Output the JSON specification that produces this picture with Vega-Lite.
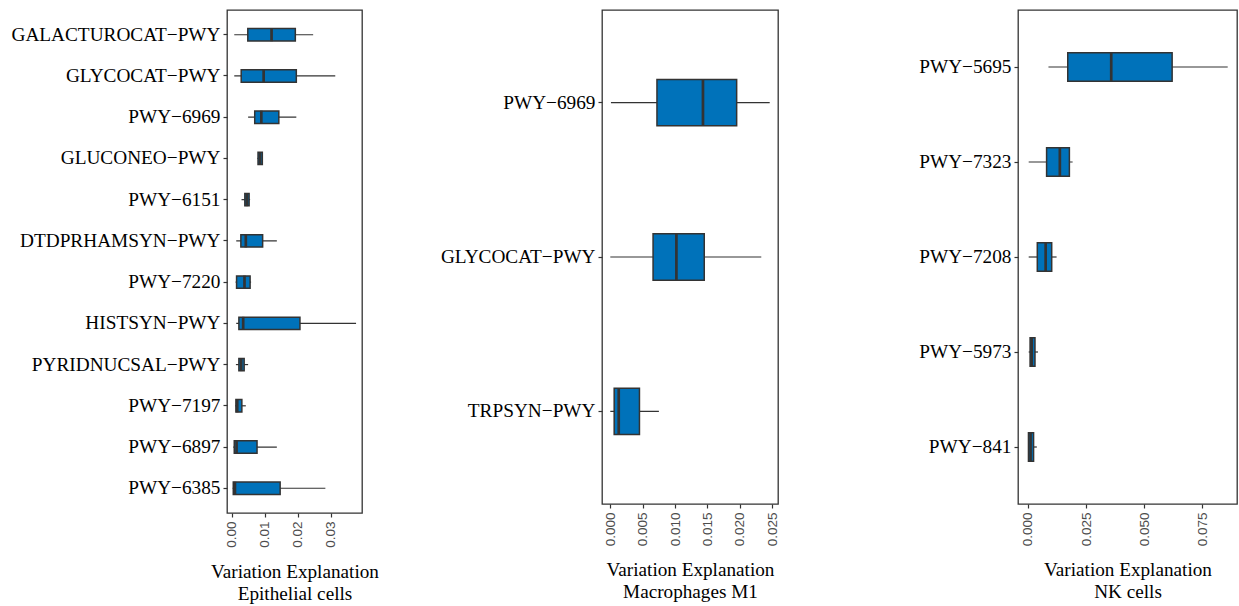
{
  "$schema": "https://vega.github.io/schema/vega-lite/v6.json",
  "padding": {"left": 10, "top": 9, "right": 0, "bottom": 0},
  "background": "white",
  "spacing": 240,
  "bounds": "flush",
  "config": {
    "view": {"stroke": "#333333", "strokeWidth": 1.3},
    "axisY": {"labelFont": "Liberation Serif", "labelFontSize": 19.3, "labelLimit": 0, "labelColor": "#000000", "tickColor": "#333333", "tickSize": 4, "tickWidth": 1.2, "labelPadding": 3, "domain": false, "grid": false, "title": null},
    "axisX": {"labelFont": "Liberation Sans", "labelFontSize": 13.5, "labelColor": "#4d4d4d", "labelAngle": 270, "labelOverlap": false, "labelFlush": false, "labelBound": false, "tickColor": "#333333", "tickSize": 4, "tickWidth": 1.2, "labelPadding": 4, "domain": false, "grid": false, "titleFont": "Liberation Serif", "titleFontSize": 19.2, "titleFontWeight": "normal", "titleColor": "#000000", "titleLineHeight": 22, "titlePadding": 15}
  },
  "datasets": {
    "epi": [
      {"pathway": "GALACTUROCAT−PWY", "min": 0.0007, "q1": 0.0048, "median": 0.0120, "q3": 0.0192, "max": 0.0246},
      {"pathway": "GLYCOCAT−PWY", "min": 0.0007, "q1": 0.0028, "median": 0.0096, "q3": 0.0195, "max": 0.0313},
      {"pathway": "PWY−6969", "min": 0.0049, "q1": 0.0069, "median": 0.0089, "q3": 0.0142, "max": 0.0195},
      {"pathway": "GLUCONEO−PWY", "min": 0.0077, "q1": 0.0079, "median": 0.0085, "q3": 0.0092, "max": 0.0094},
      {"pathway": "PWY−6151", "min": 0.0029, "q1": 0.0039, "median": 0.0045, "q3": 0.0052, "max": 0.0055},
      {"pathway": "DTDPRHAMSYN−PWY", "min": 0.0013, "q1": 0.0027, "median": 0.0042, "q3": 0.0093, "max": 0.0136},
      {"pathway": "PWY−7220", "min": 0.0011, "q1": 0.0014, "median": 0.0038, "q3": 0.0055, "max": 0.0058},
      {"pathway": "HISTSYN−PWY", "min": 0.0013, "q1": 0.0021, "median": 0.0034, "q3": 0.0206, "max": 0.0376},
      {"pathway": "PYRIDNUCSAL−PWY", "min": 0.0012, "q1": 0.0021, "median": 0.0028, "q3": 0.0037, "max": 0.0049},
      {"pathway": "PWY−7197", "min": 0.0010, "q1": 0.0012, "median": 0.0016, "q3": 0.0030, "max": 0.0042},
      {"pathway": "PWY−6897", "min": 0.0004, "q1": 0.0007, "median": 0.0014, "q3": 0.0076, "max": 0.0136},
      {"pathway": "PWY−6385", "min": 0.0002, "q1": 0.0004, "median": 0.0009, "q3": 0.0146, "max": 0.0283}
    ],
    "mac": [
      {"pathway": "PWY−6969", "min": 0.0001, "q1": 0.0072, "median": 0.0143, "q3": 0.0195, "max": 0.0246},
      {"pathway": "GLYCOCAT−PWY", "min": 0.0000, "q1": 0.0066, "median": 0.0102, "q3": 0.0145, "max": 0.0233},
      {"pathway": "TRPSYN−PWY", "min": 0.0000, "q1": 0.0006, "median": 0.0013, "q3": 0.0045, "max": 0.0075}
    ],
    "nk": [
      {"pathway": "PWY−5695", "min": 0.0088, "q1": 0.0171, "median": 0.0358, "q3": 0.0620, "max": 0.0859},
      {"pathway": "PWY−7323", "min": 0.0003, "q1": 0.0080, "median": 0.0137, "q3": 0.0178, "max": 0.0192},
      {"pathway": "PWY−7208", "min": 0.0003, "q1": 0.0040, "median": 0.0076, "q3": 0.0102, "max": 0.0123},
      {"pathway": "PWY−5973", "min": 0.0003, "q1": 0.0009, "median": 0.0016, "q3": 0.0030, "max": 0.0043},
      {"pathway": "PWY−841", "min": 0.0001, "q1": 0.0002, "median": 0.0011, "q3": 0.0024, "max": 0.0038}
    ]
  },
  "hconcat": [
    {
      "width": 135, "height": 503,
      "data": {"name": "epi"},
      "encoding": {
        "y": {"field": "pathway", "type": "nominal", "sort": null, "scale": {"type": "band", "paddingInner": 0, "paddingOuter": 0.1}},
        "x": {"field": "min", "type": "quantitative", "scale": {"domain": [-0.0015, 0.0394], "nice": false, "zero": false}, "axis": {"values": [0, 0.01, 0.02, 0.03], "format": ".2f", "labelOverlap": false, "title": ["Variation Explanation", "Epithelial cells"]}}
      },
      "layer": [
        {"mark": {"type": "rule", "color": "#333333", "strokeWidth": 1.2},
         "encoding": {"x2": {"field": "max"}}},
        {"mark": {"type": "bar", "fill": "#0072BA", "stroke": "#333333", "strokeWidth": 1.5, "height": {"band": 0.3}},
         "encoding": {"x": {"field": "q1", "type": "quantitative"}, "x2": {"field": "q3"}}},
        {"mark": {"type": "tick", "orient": "vertical", "color": "#333333", "thickness": 2.7, "size": 13, "opacity": 1},
         "encoding": {"x": {"field": "median", "type": "quantitative"}}}
      ]
    },
    {
      "width": 176, "height": 494,
      "data": {"name": "mac"},
      "encoding": {
        "y": {"field": "pathway", "type": "nominal", "sort": null, "scale": {"type": "band", "paddingInner": 0, "paddingOuter": 0.1}},
        "x": {"field": "min", "type": "quantitative", "scale": {"domain": [-0.00128, 0.02588], "nice": false, "zero": false}, "axis": {"values": [0, 0.005, 0.01, 0.015, 0.02, 0.025], "format": ".3f", "labelOverlap": false, "title": ["Variation Explanation", "Macrophages M1"]}}
      },
      "layer": [
        {"mark": {"type": "rule", "color": "#333333", "strokeWidth": 1.2},
         "encoding": {"x2": {"field": "max"}}},
        {"mark": {"type": "bar", "fill": "#0072BA", "stroke": "#333333", "strokeWidth": 1.5, "height": {"band": 0.3}},
         "encoding": {"x": {"field": "q1", "type": "quantitative"}, "x2": {"field": "q3"}}},
        {"mark": {"type": "tick", "orient": "vertical", "color": "#333333", "thickness": 2.7, "size": 46, "opacity": 1},
         "encoding": {"x": {"field": "median", "type": "quantitative"}}}
      ]
    },
    {
      "width": 219, "height": 494,
      "data": {"name": "nk"},
      "encoding": {
        "y": {"field": "pathway", "type": "nominal", "sort": null, "scale": {"type": "band", "paddingInner": 0, "paddingOuter": 0.1}},
        "x": {"field": "min", "type": "quantitative", "scale": {"domain": [-0.0043, 0.0899], "nice": false, "zero": false}, "axis": {"values": [0, 0.025, 0.05, 0.075], "format": ".3f", "labelOverlap": false, "title": ["Variation Explanation", "NK cells"]}}
      },
      "layer": [
        {"mark": {"type": "rule", "color": "#333333", "strokeWidth": 1.2},
         "encoding": {"x2": {"field": "max"}}},
        {"mark": {"type": "bar", "fill": "#0072BA", "stroke": "#333333", "strokeWidth": 1.5, "height": {"band": 0.3}},
         "encoding": {"x": {"field": "q1", "type": "quantitative"}, "x2": {"field": "q3"}}},
        {"mark": {"type": "tick", "orient": "vertical", "color": "#333333", "thickness": 2.7, "size": 28, "opacity": 1},
         "encoding": {"x": {"field": "median", "type": "quantitative"}}}
      ]
    }
  ]
}
